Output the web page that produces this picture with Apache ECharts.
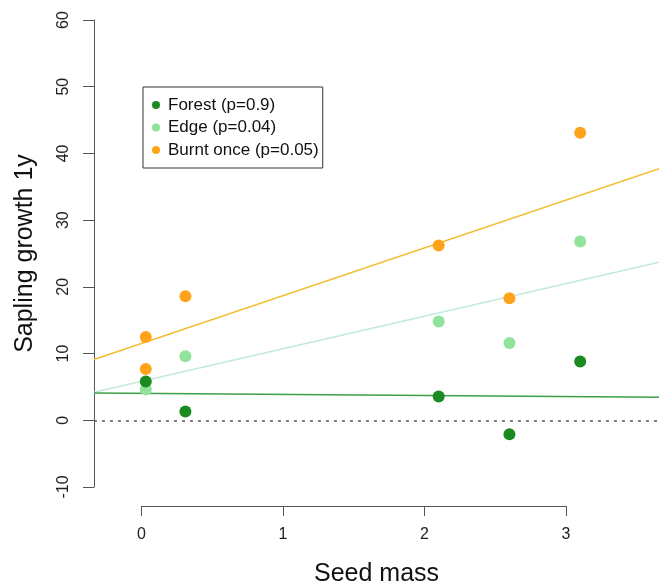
<!DOCTYPE html>
<html>
<head>
<meta charset="utf-8">
<title>Sapling growth vs seed mass</title>
<script src="https://cdn.jsdelivr.net/npm/echarts@6/dist/echarts.min.js"></script>
<style>
  html, body { margin: 0; padding: 0; background: #ffffff; }
  #chart { width: 659px; height: 584px; }
</style>
</head>
<body>
<div id="chart"></div>
<script>
// Seed mass of each species (x) and one-year sapling growth per habitat
const forestX = [0.03, 0.31, 2.10, 2.60, 3.10];
const forestY = [5.8, 1.3, 3.55, -2.1, 8.8];
const edgeX = [0.03, 0.31, 2.10, 2.60, 3.10];
const edgeY = [4.6, 9.6, 14.8, 11.6, 26.8];
const burntX = [0.03, 0.03, 0.31, 2.10, 2.60, 3.10];
const burntY = [12.5, 7.7, 18.6, 26.2, 18.3, 43.1];

// Fitted regression lines, evaluated at the edges of the plotting region
const plotXRange = [-0.336, 3.657];
const forestFit = [4.1, 3.45];
const edgeFit = [4.2, 23.7];
const burntFit = [9.1, 37.7];

// Axis ticks
const xTicks = [0, 3];
const yTicks = [-10, 60];

const seriesNames = ['Forest (p=0.9)', 'Edge (p=0.04)', 'Burnt once (p=0.05)'];
const pointColors = ['#1b8a20', '#8fe39a', '#ffa41a'];
const lineColors = ['#3f9e48', '#c2ead8', '#f2be30'];

const FONT = '"Liberation Sans", Arial, Helvetica, sans-serif';

function pairs(xs, ys) { return xs.map((x, i) => [x, ys[i]]); }

const chart = echarts.init(document.getElementById('chart'), null, { renderer: 'canvas' });

const fitLine = (name, vals, color) => ({
  type: 'line',
  name: name + ' fit',
  xAxisIndex: 0, yAxisIndex: 0,
  data: pairs(plotXRange, vals),
  symbol: 'none',
  silent: true,
  lineStyle: { color: color, width: 1.5 },
  z: 2
});

const scatter = (name, xs, ys, color, z) => ({
  type: 'scatter',
  name: name,
  xAxisIndex: 0, yAxisIndex: 0,
  data: pairs(xs, ys),
  symbol: 'circle',
  symbolSize: 12,
  itemStyle: { color: color, opacity: 1 },
  z: z
});

chart.setOption({
  animation: false,
  backgroundColor: '#ffffff',
  textStyle: { fontFamily: FONT },
  grid: [
    { left: 94, right: 0, top: 20, height: 467, containLabel: false, outerBoundsMode: 'none' },
    { left: 141.5, width: 424.5, top: 505, height: 1, containLabel: false, outerBoundsMode: 'none' }
  ],
  xAxis: [
    {
      gridIndex: 0, type: 'value',
      min: plotXRange[0], max: plotXRange[1],
      axisLine: { show: false, onZero: false }, axisTick: { show: false },
      axisLabel: { show: false }, splitLine: { show: false },
      name: 'Seed mass', nameLocation: 'middle', nameGap: 75,
      nameTextStyle: { fontSize: 25, color: '#111', fontFamily: FONT }
    },
    {
      gridIndex: 1, type: 'value',
      min: xTicks[0], max: xTicks[1], interval: 1,
      position: 'bottom',
      axisLine: { show: true, onZero: false, lineStyle: { color: '#555', width: 1 } },
      axisTick: { show: true, inside: false, length: 10, lineStyle: { color: '#555', width: 1 } },
      axisLabel: { show: true, margin: 21, fontSize: 16, color: '#222', fontFamily: FONT },
      splitLine: { show: false }
    }
  ],
  yAxis: [
    {
      gridIndex: 0, type: 'value',
      min: yTicks[0], max: yTicks[1], interval: 10,
      position: 'left',
      axisLine: { show: true, onZero: false, lineStyle: { color: '#555', width: 1 } },
      axisTick: { show: true, inside: false, length: 11, lineStyle: { color: '#555', width: 1 } },
      axisLabel: { show: true, rotate: 90, margin: 22, fontSize: 16, color: '#222', fontFamily: FONT },
      splitLine: { show: false },
      name: 'Sapling growth 1y', nameLocation: 'middle', nameGap: 56,
      nameTextStyle: { fontSize: 25, color: '#111', fontFamily: FONT }
    },
    {
      gridIndex: 1, type: 'value', min: 0, max: 1,
      show: false
    }
  ],
  legend: {
    left: 143, top: 87,
    orient: 'vertical',
    data: seriesNames.map((n, i) => ({ name: n, icon: 'circle', itemStyle: { color: pointColors[i] } })),
    itemWidth: 14, itemHeight: 8, itemGap: 2.5,
    padding: [8, 4, 8, 9],
    borderColor: '#333', borderWidth: 1,
    backgroundColor: '#ffffff',
    selectedMode: false,
    textStyle: { fontSize: 17, lineHeight: 20, color: '#111', fontFamily: FONT }
  },
  series: [
    {
      type: 'line', name: 'zero', xAxisIndex: 0, yAxisIndex: 0,
      data: [], symbol: 'none', silent: true,
      markLine: {
        silent: true, symbol: 'none', label: { show: false },
        lineStyle: { color: '#555', type: [3, 5], width: 1.5 },
        data: [{ yAxis: 0 }]
      },
      z: 1
    },
    fitLine(seriesNames[2], burntFit, lineColors[2]),
    fitLine(seriesNames[1], edgeFit, lineColors[1]),
    fitLine(seriesNames[0], forestFit, lineColors[0]),
    scatter(seriesNames[1], edgeX, edgeY, pointColors[1], 3),
    scatter(seriesNames[0], forestX, forestY, pointColors[0], 4),
    scatter(seriesNames[2], burntX, burntY, pointColors[2], 5)
  ]
});
</script>
</body>
</html>
